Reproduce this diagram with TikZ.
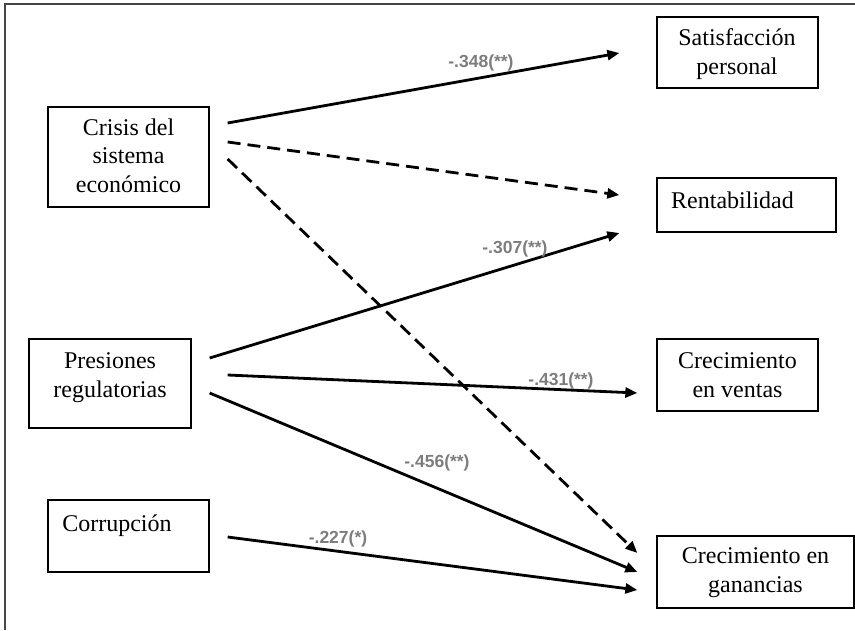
\documentclass[tikz,border=0pt]{standalone}
\usepackage{fontspec}
\setmainfont{Liberation Serif}
\newfontfamily\lblfont{Liberation Sans}
\usetikzlibrary{arrows.meta,calc}
\definecolor{coefgray}{RGB}{125,125,125}
\definecolor{framegray}{RGB}{70,70,70}
\begin{document}
\begin{tikzpicture}[x=1pt,y=-1pt,
  box/.style={draw=black,line width=1.3pt,inner sep=0pt,rectangle},
  boxtext/.style={anchor=base,align=center,inner sep=0pt,font=\fontsize{24}{28.5}\selectfont},
  coef/.style={anchor=base,inner sep=0pt,text=coefgray,font=\lblfont\bfseries\fontsize{17.5}{20}\selectfont},
  effect/.style={line width=2.8pt,-{Triangle[length=12pt,width=10pt]}},
  effectdashed/.style={effect,dash pattern=on 13pt off 7pt}]
\useasboundingbox (0,0) rectangle (855,630);
% frame
\draw[framegray,line width=2pt] (5,630) -- (5,4) -- (855,4);
% boxes
\node[box,minimum width=161pt,minimum height=100pt] (crisis) at (128.5,157) {};
\node[box,minimum width=161pt,minimum height=71pt] (sat) at (737.5,52.5) {};
\node[box,minimum width=179pt,minimum height=54pt] (rent) at (746.5,205) {};
\node[box,minimum width=162pt,minimum height=89pt] (pres) at (110,383.5) {};
\node[box,minimum width=161pt,minimum height=72pt] (corr) at (128.5,536) {};
\node[box,minimum width=161pt,minimum height=72pt] (vent) at (737.5,375) {};
\node[box,minimum width=197pt,minimum height=72pt] (gan) at (755.5,572) {};
% box texts (base = baseline of last line)
\node[boxtext] (crisisT) at (128.5,192) {Crisis del\\sistema\\económico};
\node[boxtext] (satT) at (737,74) {Satisfacción\\personal};
\node[boxtext] (rentT) at (732.5,208) {Rentabilidad};
\node[boxtext] (presT) at (110,397) {Presiones\\regulatorias};
\node[boxtext] (corrT) at (117,531) {Corrupción};
\node[boxtext] (ventT) at (737.5,397) {Crecimiento\\en ventas};
\node[boxtext] (ganT) at (755.5,592) {Crecimiento en\\ganancias};
% connectors
\draw[effect] ($(crisis.east)+(18,-34)$) -- ($(sat.west)+(-37,0.5)$);
\draw[effectdashed] ($(crisis.east)+(18,-15)$) -- ($(rent.west)+(-37,-10)$);
\draw[effectdashed] ($(crisis.east)+(18,2)$) -- ($(gan.west)+(-19,-19)$);
\draw[effect] ($(pres.east)+(18,-25.5)$) -- ($(rent.west)+(-37,28)$);
\draw[effect] ($(pres.east)+(36,-8.5)$) -- ($(vent.west)+(-19,18)$);
\draw[effect] ($(pres.east)+(18,9.5)$) -- ($(gan.west)+(-19,0)$);
\draw[effect] ($(corr.east)+(18,1)$) -- ($(gan.west)+(-19,18)$);
% coefficients
\node[coef] (c1) at (481,67) {-.348(**)};
\node[coef] (c2) at (515,253) {-.307(**)};
\node[coef] (c3) at (561,385) {-.431(**)};
\node[coef] (c4) at (437,467) {-.456(**)};
\node[coef] (c5) at (338,543) {-.227(*)};
\end{tikzpicture}
\end{document}
